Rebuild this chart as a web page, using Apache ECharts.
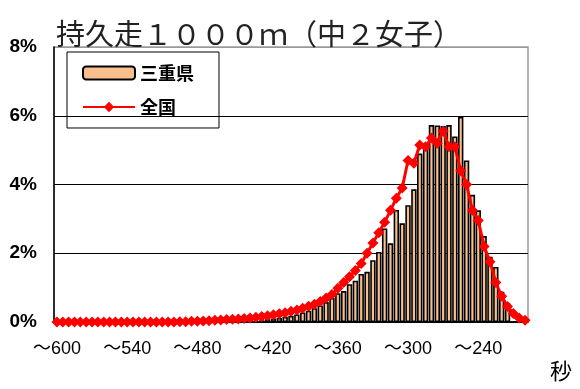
<!DOCTYPE html>
<html><head><meta charset="utf-8">
<script src="https://cdn.jsdelivr.net/npm/echarts@6/dist/echarts.min.js"></script>
<style>html,body{margin:0;padding:0;background:#fff}#c{width:580px;height:389px}</style>
</head><body><div id="c"></div>
<script>
const categories = [
'～600','～595','～590','～585','～580','～575','～570','～565','～560','～555',
'～550','～545','～540','～535','～530','～525','～520','～515','～510','～505',
'～500','～495','～490','～485','～480','～475','～470','～465','～460','～455',
'～450','～445','～440','～435','～430','～425','～420','～415','～410','～405',
'～400','～395','～390','～385','～380','～375','～370','～365','～360','～355',
'～350','～345','～340','～335','～330','～325','～320','～315','～310','～305',
'～300','～295','～290','～285','～280','～275','～270','～265','～260','～255',
'～250','～245','～240','～235','～230','～225','～220','～215','～210','～205',
'～200'];
// 三重県 (%)
const mie = [
0,0,0,0,0,0,0,0,0,0,
0,0,0,0,0,0,0,0,0,0,
0,0,0,0,0,0,0,0,0,0,
0,0,0,0.2,0.03,0.05,0.08,0.1,0.12,0.15,
0.18,0.22,0.28,0.33,0.4,0.48,0.58,0.7,0.84,0.9,
1.1,1.2,1.4,1.46,1.8,2.04,2.72,2.29,3.26,2.87,
3.4,3.86,4.9,5.2,5.73,5.72,5.7,5.73,5.4,5.97,
4.7,3.7,3.25,2.5,1.9,1.6,0.88,0.55,0,0,
0];
// 全国 (%)
const national = [
0,0,0,0,0,0,0,0,0,0,
0,0,0,0,0,0,0,0,0,0,
0,0.01,0.01,0.02,0.02,0.03,0.04,0.05,0.06,0.07,
0.08,0.09,0.1,0.12,0.14,0.16,0.18,0.21,0.24,0.27,
0.31,0.35,0.4,0.46,0.52,0.6,0.7,0.8,0.98,1.15,
1.32,1.5,1.7,2.0,2.3,2.6,2.9,3.25,3.6,3.9,
4.7,4.62,5.15,5.1,5.35,5.2,5.55,5.1,5.1,4.4,
4.0,3.25,2.95,2.2,1.75,1.15,0.75,0.45,0.25,0.12,
0.05];
const seriesNames = ['三重県','全国'];
const titleText = '持久走１０００ｍ（中２女子）';
const unitText = '秒';

const cjk = "'Noto Sans CJK JP', sans-serif";
const chart = echarts.init(document.getElementById('c'), null, {renderer:'canvas'});
chart.setOption({
  animation:false,
  backgroundColor:'#fff',
  title:{text:titleText, left:51, top:14,
    textStyle:{fontSize:29, fontWeight:'normal', color:'#222', fontFamily:cjk}},
  grid:{left:54, right:52, top:47, bottom:67, show:true, borderColor:'#999', borderWidth:1.5},
  legend:{data:seriesNames, orient:'vertical', left:67, top:52,
    borderColor:'#000', borderWidth:1, padding:[12,25,12,15], itemGap:16,
    itemWidth:52, itemHeight:13,
    textStyle:{fontSize:18, fontWeight:'bold', color:'#000', fontFamily:cjk}},
  xAxis:{type:'category', data:categories, boundaryGap:true,
    axisLine:{lineStyle:{color:'#000', width:1.5}},
    axisTick:{show:false},
    axisLabel:{interval:11, margin:18, fontSize:18, color:'#000',
      fontFamily:"'Liberation Sans', 'Noto Sans CJK JP', sans-serif"}},
  yAxis:{type:'value', min:0, max:8, interval:2,
    axisLine:{show:true, lineStyle:{color:'#000', width:1.5}},
    axisTick:{show:false},
    splitLine:{lineStyle:{color:['#000','#000','#000','#000','#999'], width:1}},
    axisLabel:{formatter:'{value}%', margin:17, fontSize:19, fontWeight:'bold', color:'#000',
      fontFamily:"'Liberation Sans Narrow', 'Liberation Sans', sans-serif"}},
  graphic:[{type:'text', left:550, top:360,
    style:{text:unitText, fontSize:22, fill:'#000', fontFamily:cjk}}],
  series:[
    {name:seriesNames[0], type:'bar', data:mie, barCategoryGap:'8%',
      itemStyle:{color:'#F9BF8D', borderColor:'#000', borderWidth:1.6}},
    {name:seriesNames[1], type:'line', data:national, symbol:'diamond', symbolSize:11,
      showAllSymbol:true, clip:false, z:3,
      itemStyle:{color:'#FF0000'}, lineStyle:{color:'#FF0000', width:3}}
  ]
});
</script></body></html>
